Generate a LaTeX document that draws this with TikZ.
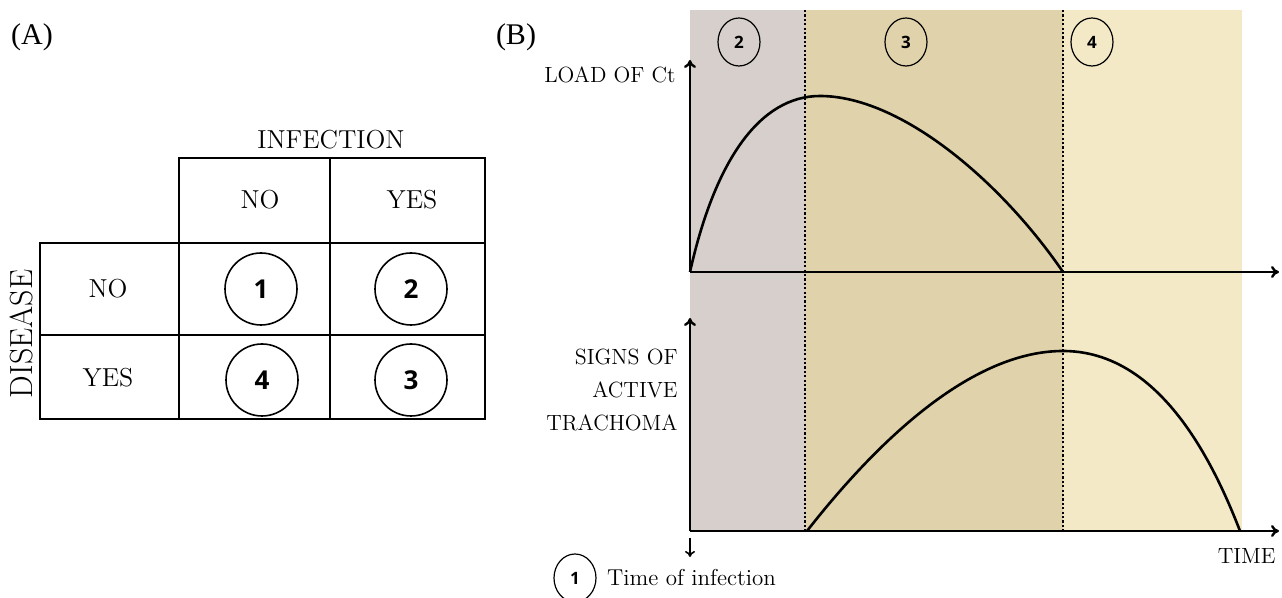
\documentclass[tikz,border=0pt]{standalone}
\usepackage{fontspec}
\newfontfamily\numfont{Open Sans}
\newfontfamily\panelfont{Liberation Serif}
\usepackage{tikz}
\usetikzlibrary{arrows.meta,positioning,shapes.geometric}
\definecolor{phasetwo}{HTML}{D7CFCB}
\definecolor{phasethree}{HTML}{E0D3AB}
\definecolor{phasefour}{HTML}{F3E9C7}

\begin{document}
\begin{tikzpicture}[
    x=0.5pt, y=-0.5pt,
    grid/.style={line width=1pt},
    head/.style={font=\fontsize{13}{15}\selectfont, inner sep=0pt},
    panel/.style={font=\panelfont\fontsize{15}{17}\selectfont, inner sep=0pt},
    cellnum/.style={circle, draw, line width=0.8pt, minimum size=36pt, inner sep=0pt, font=\numfont\bfseries\fontsize{13}{15}\selectfont},
    phasenum/.style={ellipse, draw, line width=0.6pt, minimum width=21pt, minimum height=24pt, inner sep=0pt, font=\numfont\bfseries\fontsize{8.5}{10}\selectfont},
    axislabel/.style={font=\fontsize{11}{16.5}\selectfont, inner sep=0pt},
    axis/.style={-{To[length=4pt,width=6pt]}, line width=1.2pt},
    curve/.style={line width=1.3pt},
    phaseline/.style={line width=1pt, dash pattern=on 1.1pt off 1.1pt}
]
\useasboundingbox (0,0) rectangle (1282,598);

% Panel labels
\node[panel] (pa) at (32,37) {(A)};
\node[panel] (pb) at (516,37) {(B)};

% (A) infection / disease table
\draw[grid] (179,158) rectangle (485,419);
\draw[grid] (40,243) rectangle (179,419);
\draw[grid] (330,158) -- (330,419);
\draw[grid] (40,243) -- (485,243);
\draw[grid] (40,335) -- (485,335);

\node[head] (infection) at (331,140) {INFECTION};
\node[head, rotate=90, font=\fontsize{16}{18}\selectfont] (disease) at (21,334) {DISEASE};
\node[head] (colno) at (260,200) {NO};
\node[head] (colyes) at (412,200) {YES};
\node[head] (rowno) at (108,289) {NO};
\node[head] (rowyes) at (108,378) {YES};

\node[cellnum] (c1) at (261,289) {1};
\node[cellnum] (c2) at (411,289) {2};
\node[cellnum] (c4) at (262,380) {4};
\node[cellnum] (c3) at (411,380) {3};

% (B) phases
\fill[phasetwo] (690,10) rectangle (805,531);
\fill[phasethree] (805,10) rectangle (1063,531);
\fill[phasefour] (1063,10) rectangle (1242,531);
\draw[phaseline] (805,10) -- (805,531);
\draw[phaseline] (1063,10) -- (1063,531);

\node[phasenum] (p2) at (739,42) {2};
\node[phasenum] (p3) at (906,42) {3};
\node[phasenum] (p4) at (1092,42) {4};

% Axes
\coordinate (o1) at (690,272);
\coordinate (y1) at (690,60);
\coordinate (x1) at (1279,272);
\coordinate (o2) at (690,531);
\coordinate (y2) at (690,318);
\coordinate (x2) at (1279,531);
\draw[axis] (o1) -- (y1);
\draw[axis] (o1) -- (x1);
\draw[axis] (o2) -- (y2);
\draw[axis] (o2) -- (x2);

\node[axislabel, anchor=east] (load) at (676,75) {LOAD OF Ct};
\node[axislabel, anchor=east, align=right] (signs) at (678,390) {SIGNS OF\\ACTIVE\\TRACHOMA};
\node[axislabel, anchor=east] (time) at (1276,556) {TIME};

% Curves
\draw[curve] (o1) .. controls (715,160) and (760,96) .. (820,96)
    .. controls (900,96) and (1000,180) .. (1063,272);
\draw[curve] (807,531) .. controls (890,425) and (980,351) .. (1063,351)
    .. controls (1150,351) and (1205,440) .. (1240,531);

% Time of infection
\coordinate (t0) at (690,538);
\coordinate (t1) at (690,557);
\draw[-{To[length=3pt,width=5pt]}, line width=0.8pt] (t0) -- (t1);
\node[phasenum] (p1) at (575,578) {1};
\node[axislabel, anchor=west, font=\fontsize{11.5}{14}\selectfont, right=5pt of p1] (toi) {Time of infection};
\end{tikzpicture}
\end{document}
